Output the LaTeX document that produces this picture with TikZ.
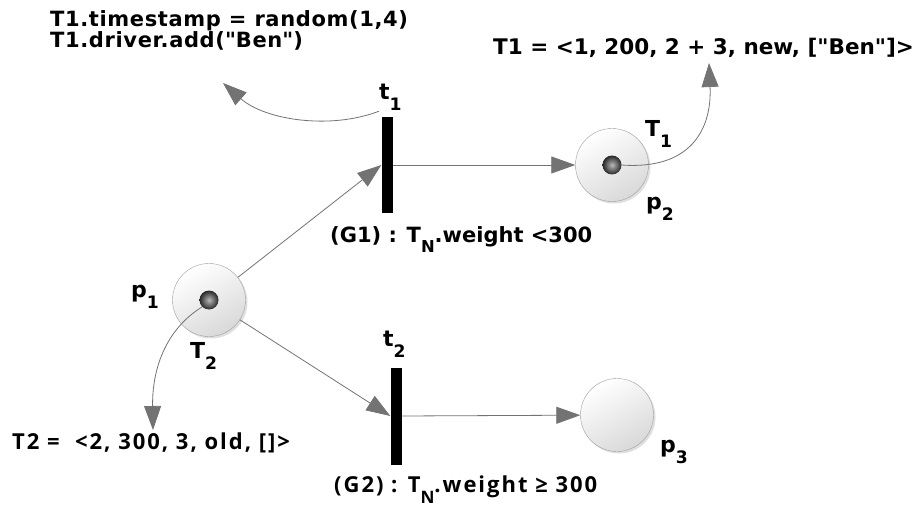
\documentclass[tikz,border=0pt]{standalone}
\usepackage{fontspec}
\setmainfont{DejaVu Sans}
\newfontfamily\lightfont[LetterSpace=9]{Open Sans}
\newfontfamily\widefont[LetterSpace=3]{DejaVu Sans}
\usetikzlibrary{arrows.meta,positioning,shadows}
\definecolor{arcGray}{RGB}{115,115,115}
\newcommand{\lsub}[1]{\raisebox{-0.5em}{\scalebox{0.78}{#1}}}

\begin{document}
\begin{tikzpicture}[x=1pt,y=-1pt,
  place/.style={circle,minimum size=73pt,inner sep=0pt,draw=gray!75,
                top color=white,bottom color=gray!30,shading angle=30,
                drop shadow={shadow xshift=2pt,shadow yshift=-2pt,opacity=0.25}},
  trans/.style={rectangle,fill=black,inner sep=0pt,minimum width=11pt},
  tok/.style={circle,minimum size=19pt,inner sep=0pt,
              inner color=gray!55,outer color=black!85},
  arc/.style={-{Triangle[length=24pt,width=17pt]},arcGray,line width=0.8pt},
  code/.style={font=\bfseries\fontsize{21}{21}\selectfont,inner sep=0pt,align=left},
  soft/.style={font=\lightfont\bfseries\fontsize{22}{24}\selectfont,inner sep=0pt},
  lab/.style={font=\bfseries\fontsize{22}{26}\selectfont,inner sep=0pt}
]
  \useasboundingbox (0,0) rectangle (919,508);
  % places and transitions
  \node[place] (p1) at (209,300) {};
  \node[place] (p2) at (612,165) {};
  \node[place] (p3) at (617,415) {};
  \node[trans,minimum height=96pt] (t1) at (387,165) {};
  \node[trans,minimum height=97pt] (t2) at (396,416) {};
  % tokens
  \node[tok] (k1) at (p1) {};
  \node[tok] (k2) at (p2) {};
  % labels
  \node[lab,anchor=base west] (t1l) at (379,100) {t\lsub{1}};
  \node[lab,anchor=base west] (t2l) at (383,346) {t\lsub{2}};
  \node[lab,anchor=base west] (p1l) at (131,297) {p\lsub{1}};
  \node[lab,anchor=base west] (p2l) at (646,209) {p\lsub{2}};
  \node[lab,anchor=base west] (p3l) at (660,452) {p\lsub{3}};
  \node[lab,anchor=base west] (T1l) at (645,137) {T\lsub{1}};
  \node[lab,anchor=base west] (T2l) at (190,358) {T\lsub{2}};
  % guards and tuples
  \node[code,font=\widefont\bfseries\fontsize{21}{21}\selectfont,anchor=base west] (upd) at (50,48)
    {T1.timestamp = random(1,4)\\T1.driver.add(\textquotedbl Ben\textquotedbl)};
  \node[code,font=\bfseries\fontsize{21.5}{21}\selectfont,anchor=base west] (tup1) at (493,55)
    {T1 = <1, 200, 2 + 3, new, [\textquotedbl Ben\textquotedbl]>};
  \node[code,anchor=base west] (g1) at (330,242) {(G1) : T\lsub{N}.weight <300};
  \node[soft,anchor=base west] (tup2) at (12,449) {T2 =\ \ <2, 300, 3, old, []>};
  \node[soft,anchor=base west] (g2) at (334,492) {(G2) : T\lsub{N}.weight ≥ 300};
  % arcs
  \draw[arc] (p1) -- (t1.west);
  \draw[arc] (p1) -- (t2.west);
  \draw[arc] (t1.east) -- (p2);
  \draw[arc] (t2.east) -- (p3);
  % token moves
  \coordinate (e1) at (223,83);
  \coordinate (e2) at (709,63);
  \coordinate (e3) at (153,430);
  \draw[arc] (t1l.south west) .. controls (330,130) and (265,120) .. (e1);
  \draw[arc] (k2.east) .. controls (690,170) and (712,130) .. (e2);
  \draw[arc] (k1.south west) .. controls (165,330) and (152,370) .. (e3);
\end{tikzpicture}
\end{document}
